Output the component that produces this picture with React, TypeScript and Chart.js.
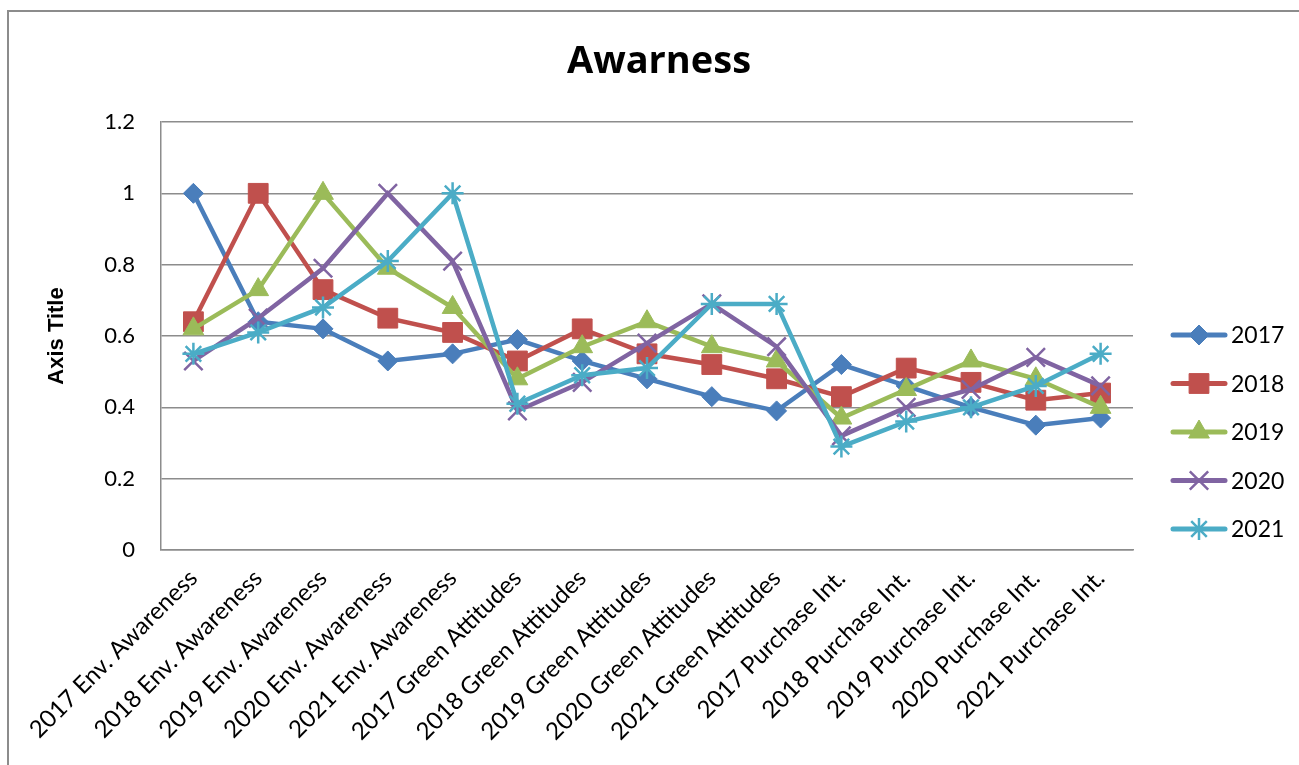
import React, { useEffect, useRef } from 'react';
import { Chart, registerables } from 'chart.js';
import { drawPoint } from 'chart.js/helpers';

Chart.register(...registerables);

const categories = [
  '2017 Env. Awareness',
  '2018 Env. Awareness',
  '2019 Env. Awareness',
  '2020 Env. Awareness',
  '2021 Env. Awareness',
  '2017 Green Attitudes',
  '2018 Green Attitudes',
  '2019 Green Attitudes',
  '2020 Green Attitudes',
  '2021 Green Attitudes',
  '2017 Purchase Int.',
  '2018 Purchase Int.',
  '2019 Purchase Int.',
  '2020 Purchase Int.',
  '2021 Purchase Int.',
];

const series2017 = [1.0, 0.64, 0.62, 0.53, 0.55, 0.59, 0.53, 0.48, 0.43, 0.39, 0.52, 0.46, 0.4, 0.35, 0.37];
const series2018 = [0.64, 1.0, 0.73, 0.65, 0.61, 0.53, 0.62, 0.55, 0.52, 0.48, 0.43, 0.51, 0.47, 0.42, 0.44];
const series2019 = [0.62, 0.73, 1.0, 0.79, 0.68, 0.48, 0.57, 0.64, 0.57, 0.53, 0.37, 0.45, 0.53, 0.48, 0.4];
const series2020 = [0.53, 0.65, 0.79, 1.0, 0.81, 0.39, 0.47, 0.58, 0.69, 0.57, 0.32, 0.4, 0.45, 0.54, 0.46];
const series2021 = [0.55, 0.61, 0.68, 0.81, 1.0, 0.41, 0.49, 0.51, 0.69, 0.69, 0.29, 0.36, 0.4, 0.46, 0.55];

const seriesNames = ['2017', '2018', '2019', '2020', '2021'];
const seriesValues = [series2017, series2018, series2019, series2020, series2021];
const seriesColors = ['#4A7EBB', '#C0504D', '#9BBB59', '#8064A2', '#4BACC6'];
const pointStyles = ['rectRot', 'rect', 'triangle', 'crossRot', 'star'];
const pointRadii = [10, 14, 12, 13, 11];
const pointBorders = [1, 1, 1, 2.5, 2.5];

const chartTitle = 'Awarness';
const yAxisTitle = 'Axis Title';
const yMin = 0;
const yMax = 1.2;
const yStep = 0.2;

const GRID = '#8c8c8c';
const TEXT_FONT = 'Lato, "Open Sans", sans-serif';

const decorPlugin = {
  id: 'decor',
  beforeDraw(chart: any) {
    const ctx = chart.ctx;
    ctx.save();
    ctx.fillStyle = '#ffffff';
    ctx.fillRect(0, 0, chart.width, chart.height);
    ctx.strokeStyle = '#8c8c8c';
    ctx.lineWidth = 2;
    ctx.beginPath();
    ctx.moveTo(8, chart.height + 5);
    ctx.lineTo(8, 11);
    ctx.lineTo(chart.width + 5, 11);
    ctx.stroke();
    ctx.restore();
  },
  afterDraw(chart: any) {
    const ctx = chart.ctx;
    const area = chart.chartArea;
    ctx.save();
    // title
    ctx.fillStyle = '#000';
    ctx.font = 'bold 38px "Open Sans", Lato, sans-serif';
    ctx.textAlign = 'center';
    ctx.textBaseline = 'alphabetic';
    ctx.fillText(chartTitle, 659, 73);
    // legend
    const startY = 335;
    const gap = 48.5;
    chart.data.datasets.forEach((ds: any, i: number) => {
      const y = startY + i * gap;
      ctx.strokeStyle = ds.borderColor;
      ctx.lineWidth = 5;
      ctx.lineCap = 'round';
      ctx.beginPath();
      ctx.moveTo(area.right + 40, y);
      ctx.lineTo(area.right + 92, y);
      ctx.stroke();
      ctx.fillStyle = ds.pointBackgroundColor;
      ctx.strokeStyle = ds.pointBorderColor;
      ctx.lineWidth = ds.pointBorderWidth;
      ctx.lineCap = 'butt';
      drawPoint(ctx, { pointStyle: ds.pointStyle, radius: ds.pointRadius, rotation: 0, borderWidth: ds.pointBorderWidth }, area.right + 66, y);
      ctx.fillStyle = '#000';
      ctx.font = `23px ${TEXT_FONT}`;
      ctx.textAlign = 'left';
      ctx.textBaseline = 'middle';
      ctx.fillText(ds.label, area.right + 98, y + 1);
    });
    ctx.restore();
  },
};

export default function App() {
  const canvasRef = useRef<HTMLCanvasElement | null>(null);

  useEffect(() => {
    document.body.style.margin = '0';
    const canvas = canvasRef.current;
    if (!canvas) return;
    const datasets = seriesNames.map((name, i) => ({
      label: name,
      data: seriesValues[i],
      borderColor: seriesColors[i],
      backgroundColor: seriesColors[i],
      pointBackgroundColor: seriesColors[i],
      pointBorderColor: seriesColors[i],
      pointStyle: pointStyles[i],
      pointRadius: pointRadii[i],
      pointBorderWidth: pointBorders[i],
      borderWidth: 4.5,
      tension: 0,
      fill: false,
      order: seriesNames.length - i,
    }));
    const chart = new Chart(canvas, {
      type: 'line',
      data: { labels: categories, datasets },
      options: {
        responsive: false,
        animation: false,
        devicePixelRatio: 1,
        layout: { padding: { top: 122, left: 0, right: 166, bottom: 0 } },
        plugins: {
          legend: { display: false },
          title: { display: false },
          tooltip: { enabled: false },
        },
        scales: {
          x: {
            type: 'category',
            offset: true,
            afterFit: (s: any) => {
              s.height = 215;
            },
            grid: { display: false, drawTicks: false },
            border: { display: true, color: GRID, width: 1.5 },
            ticks: {
              autoSkip: false,
              minRotation: 45,
              maxRotation: 45,
              color: '#000',
              font: { family: TEXT_FONT, size: 24 },
              padding: 14,
            },
          },
          y: {
            min: yMin,
            max: yMax,
            afterFit: (s: any) => {
              s.width = 161;
            },
            grid: { color: GRID, lineWidth: 1.5, drawTicks: false },
            border: { display: true, color: GRID, width: 1.5 },
            ticks: {
              stepSize: yStep,
              color: '#000',
              font: { family: TEXT_FONT, size: 22 },
              padding: 26,
              callback: (v: any) => String(Number(Number(v).toFixed(1))),
            },
            title: {
              display: true,
              text: yAxisTitle,
              color: '#000',
              font: { family: '"Liberation Sans", Arial, sans-serif', size: 22, weight: 'bold' },
              padding: { top: 44, bottom: 0 },
            },
          },
        },
      },
      plugins: [decorPlugin],
    } as any);
    return () => chart.destroy();
  }, []);

  return <canvas ref={canvasRef} width={1299} height={765} style={{ display: 'block' }} />;
}
